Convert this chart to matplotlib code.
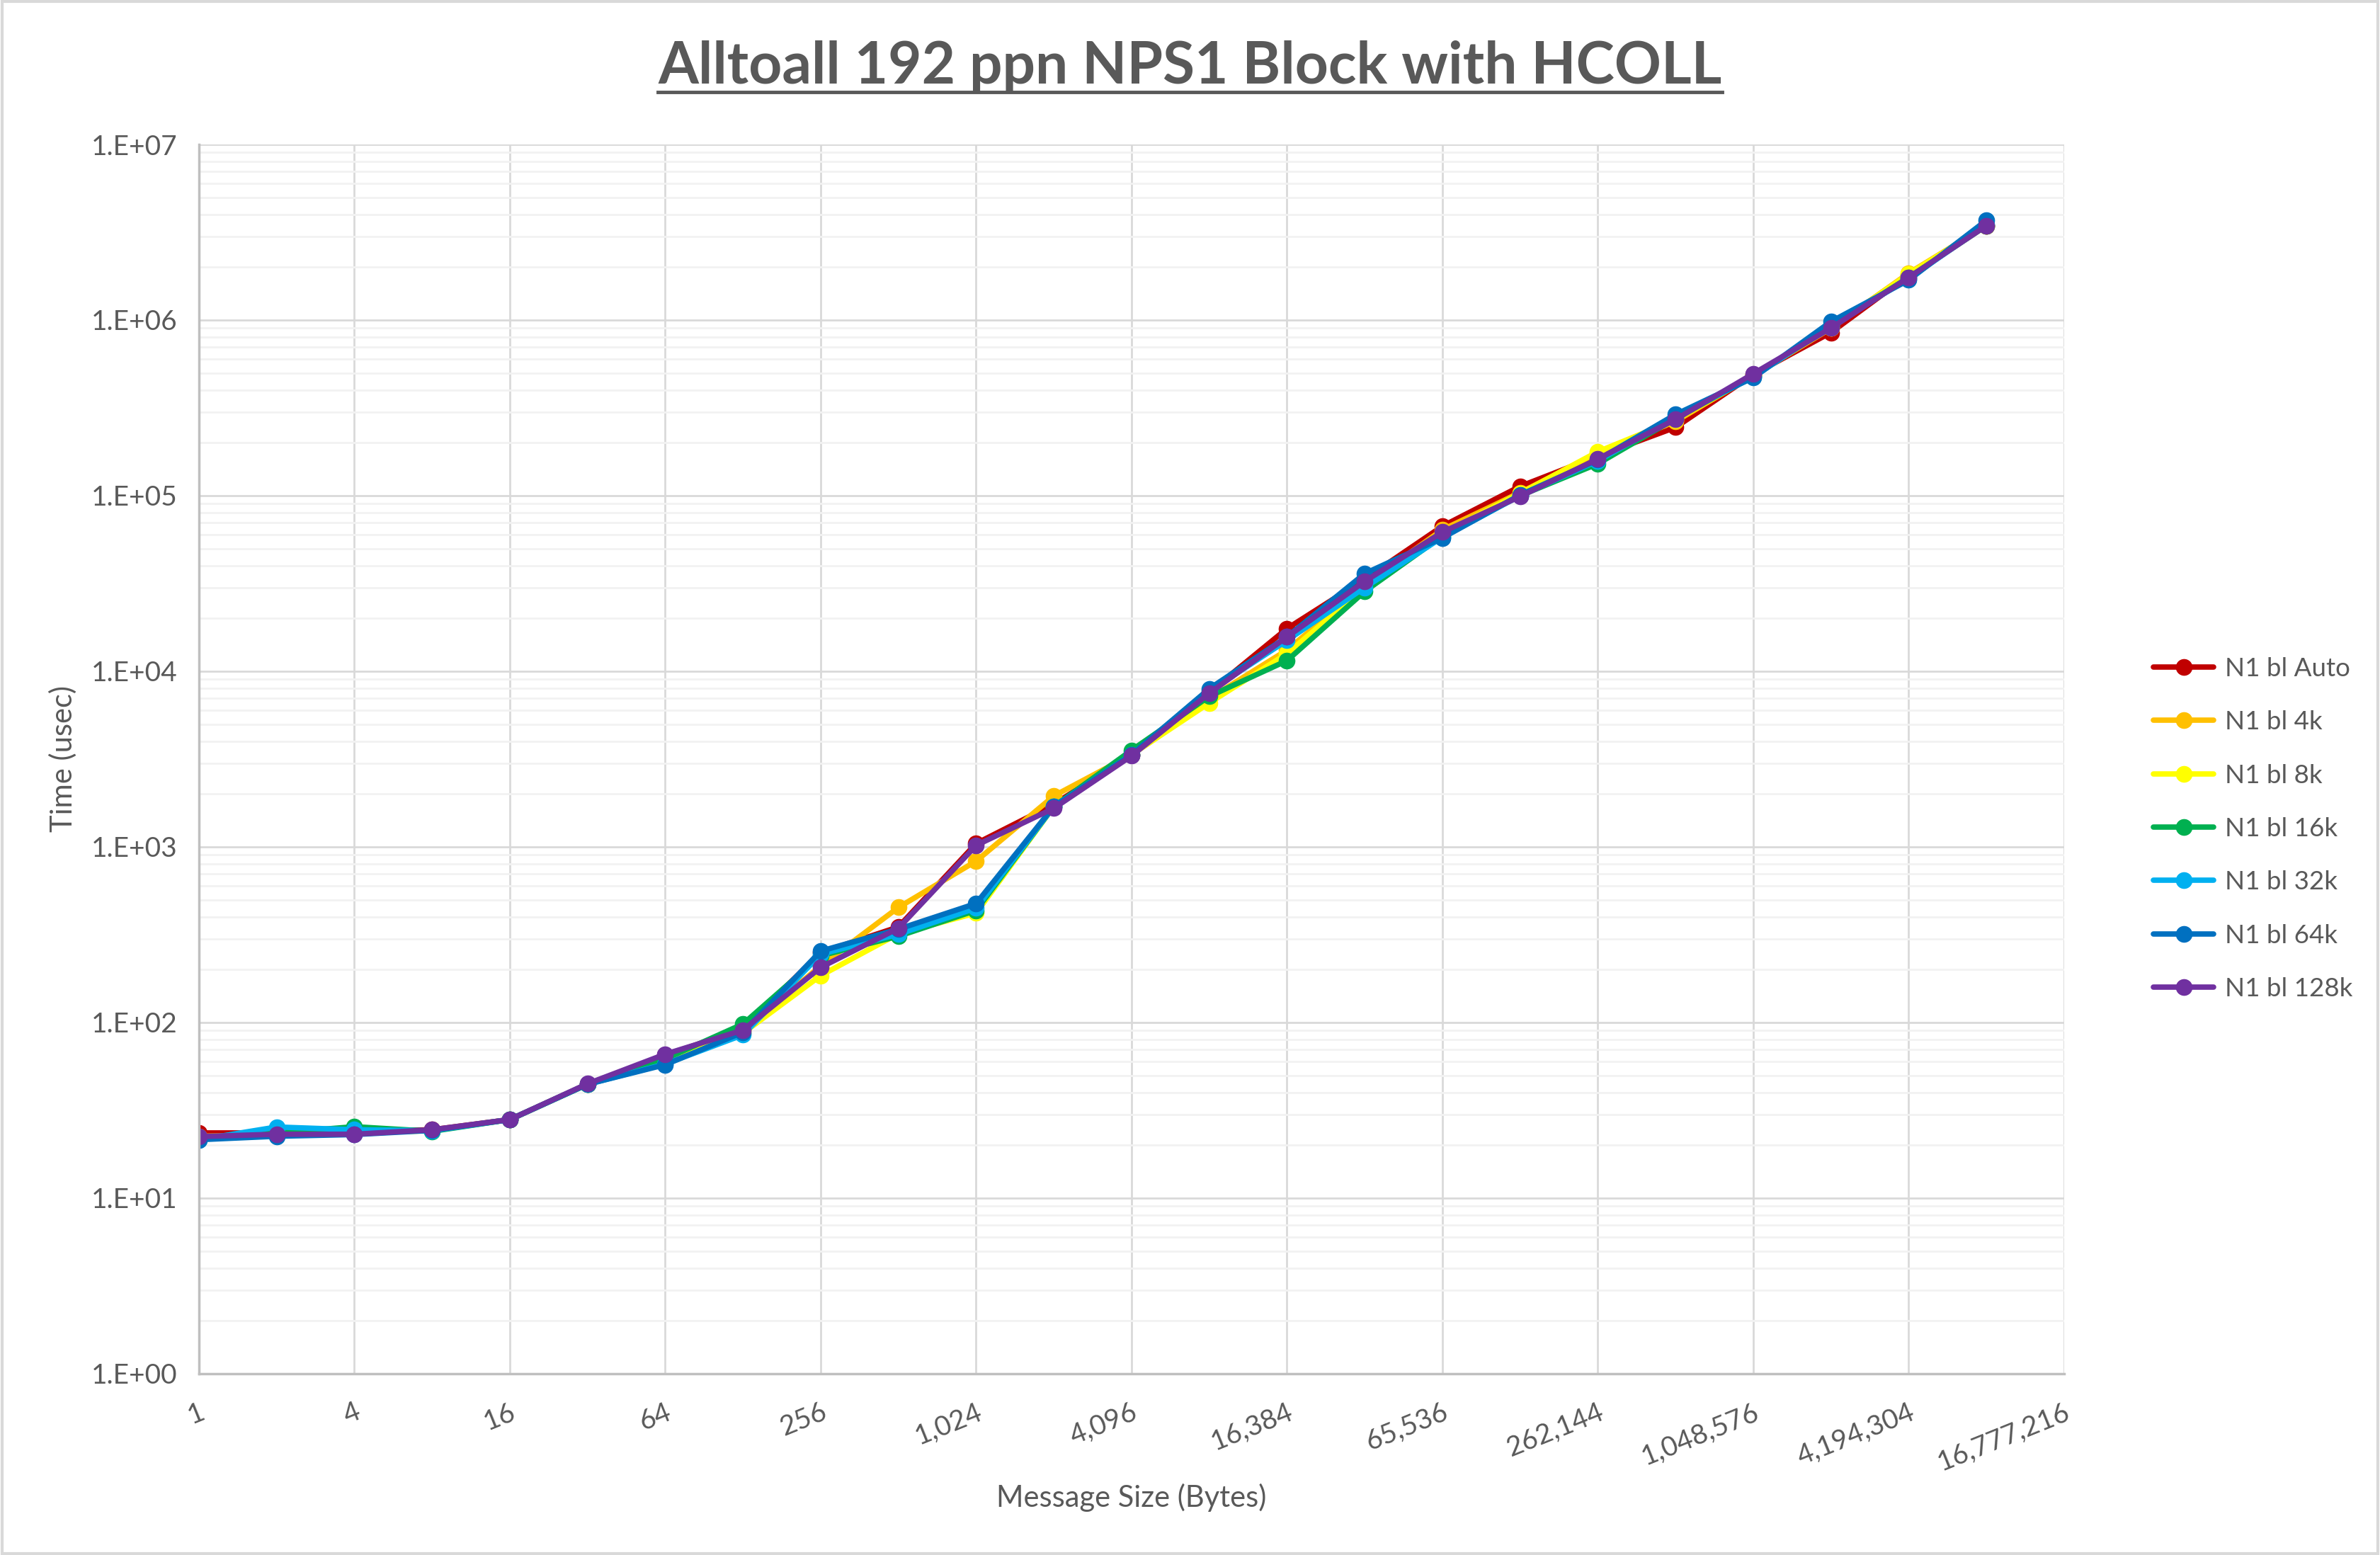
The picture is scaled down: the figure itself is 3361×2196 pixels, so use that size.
import matplotlib
matplotlib.use("Agg")
import math
import matplotlib.pyplot as plt
from matplotlib.ticker import FixedLocator, LogLocator, NullFormatter, FuncFormatter
from matplotlib.lines import Line2D
from matplotlib.patches import Rectangle

plt.rcParams['font.family'] = ['Lato', 'DejaVu Sans']

# message sizes 1 .. 8M bytes
sizes = [2 ** i for i in range(24)]

labels = ["N1 bl Auto", "N1 bl 4k", "N1 bl 8k", "N1 bl 16k", "N1 bl 32k", "N1 bl 64k", "N1 bl 128k"]
colors = ["#C00000", "#FFC000", "#FFFF00", "#00B050", "#00B0F0", "#0070C0", "#7030A0"]

auto_t = [23.5, 23.5, 24, 24.5, 28, 44.5, 65, 92, 250, 350, 1045, 1750, 3350, 7600, 17500,
          33500, 67000, 113000, 168000, 245000, 490000, 850000, 1800000, 3450000]
bl4k = [22.5, 23, 23.5, 24.3, 28, 44.5, 64, 90, 210, 452, 830, 1950, 3350, 7000, 13200,
        31000, 64000, 104000, 175000, 265000, 485000, 900000, 1850000, 3450000]
bl8k = [22, 23, 23.5, 24.2, 28, 44.5, 62, 87, 185, 320, 420, 1700, 3350, 6600, 12600,
        30000, 61000, 103000, 178000, 270000, 485000, 900000, 1830000, 3450000]
bl16k = [22, 23.5, 25.5, 24, 28, 44.5, 62, 98, 240, 310, 435, 1700, 3550, 7200, 11500,
         28500, 59000, 100000, 152000, 275000, 480000, 920000, 1750000, 3450000]
bl32k = [21.5, 25.4, 24.5, 24.2, 28, 44.5, 58, 85, 245, 318, 448, 1700, 3350, 7700, 15000,
         30000, 58000, 100000, 158000, 280000, 475000, 930000, 1720000, 3500000]
bl64k = [21.5, 22.5, 23, 24.3, 28, 44.5, 57.5, 88, 255, 340, 476, 1700, 3350, 7950, 15700,
         36000, 57500, 101000, 160000, 290000, 470000, 980000, 1690000, 3700000]
bl128k = [22.4, 23.1, 23.1, 24.5, 28, 44.8, 66, 90.5, 206, 344, 1020, 1660, 3300, 7500, 15700,
          32500, 62000, 99000, 162000, 272000, 495000, 900000, 1750000, 3450000]

series = [auto_t, bl4k, bl8k, bl16k, bl32k, bl64k, bl128k]

text_col = "#595959"

fig = plt.figure(figsize=(33.61, 21.96), dpi=100)
ax = fig.add_axes([0.0836, 0.1166, 0.7837, 0.7905])

for vals, lab, c in zip(series, labels, colors):
    ax.plot(sizes, vals, color=c, linewidth=5.5, marker="o", markersize=16,
            label=lab, solid_capstyle="round")

ax.set_xscale("log", base=2)
ax.set_yscale("log")
ax.set_xlim(1, 2 ** 24)
ax.set_ylim(1, 1e7)

xt = [4 ** k for k in range(13)]
ax.xaxis.set_major_locator(FixedLocator(xt))
ax.xaxis.set_minor_locator(FixedLocator([]))
ax.xaxis.set_major_formatter(FuncFormatter(lambda v, p: "{:,}".format(int(round(v)))))
ax.yaxis.set_major_locator(LogLocator(base=10, numticks=20))
ax.yaxis.set_minor_locator(LogLocator(base=10, subs=range(2, 10), numticks=20))
ax.yaxis.set_minor_formatter(NullFormatter())
ax.yaxis.set_major_formatter(FuncFormatter(lambda v, p: "1.E+%02d" % int(round(math.log10(v)))))

ax.grid(True, which="major", axis="both", color="#D9D9D9", linewidth=2)
ax.grid(True, which="minor", axis="y", color="#F2F2F2", linewidth=2)
ax.set_axisbelow(True)

for s in ["top", "right"]:
    ax.spines[s].set_visible(False)
for s in ["left", "bottom"]:
    ax.spines[s].set_color("#BFBFBF")
    ax.spines[s].set_linewidth(2.5)

ax.tick_params(axis="both", which="both", length=0, colors=text_col, labelsize=28)
ax.tick_params(axis="y", pad=22)
ax.tick_params(axis="x", pad=26)
for lbl in ax.get_xticklabels():
    lbl.set_rotation(22)
    lbl.set_ha("right")
    lbl.set_va("top")
    lbl.set_rotation_mode("anchor")

ax.set_xlabel("Message Size (Bytes)", fontsize=30, color=text_col, labelpad=8)
ax.set_ylabel("Time (usec)", fontsize=30, color=text_col, labelpad=14)

leg = fig.legend(loc="center left", bbox_to_anchor=(0.895, 0.467), frameon=False,
                 fontsize=26.5, labelcolor=text_col, handlelength=2.3, handletextpad=0.45,
                 labelspacing=1.15)

title = fig.text(0.5, 0.957, "Alltoall 192 ppn NPS1 Block with HCOLL", ha="center", va="center",
                 fontsize=59, fontweight="bold", color=text_col)

# underline the title
fig.canvas.draw()
bb = title.get_window_extent().transformed(fig.transFigure.inverted())
fig.add_artist(Line2D([bb.x0, bb.x1], [bb.y0 + 0.001, bb.y0 + 0.001], color=text_col,
                      linewidth=3.5, transform=fig.transFigure))

# chart border
fig.add_artist(Rectangle((0.001, 0.001), 0.998, 0.998, transform=fig.transFigure,
                         fill=False, edgecolor="#D9D9D9", linewidth=3))

fig.savefig("out.png", dpi=100, facecolor="white")
